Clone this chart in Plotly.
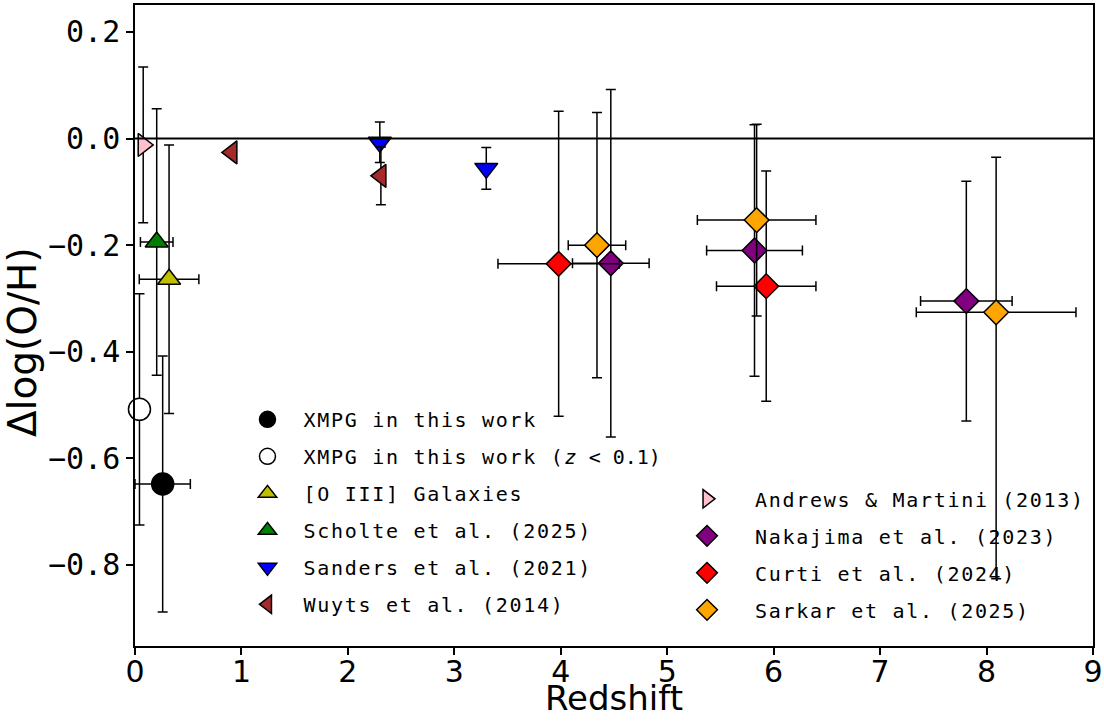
import plotly.graph_objects as go

# ---------------- data ----------------
# XMPG in this work
xmpg_z = [0.26]
xmpg_v = [-0.648]
xmpg_zerr = [0.26]
xmpg_verr = [0.24]

# XMPG in this work (z < 0.1)
xmpg_low_z = [0.042]
xmpg_low_v = [-0.508]
xmpg_low_zerr = [0.03]
xmpg_low_verr = [0.217]

# [O III] Galaxies
o3_z = [0.32]
o3_v = [-0.264]
o3_zerr = [0.28]
o3_verr = [0.252]

# Scholte et al. (2025)
scholte_z = [0.204]
scholte_v = [-0.194]
scholte_zerr = [0.153]
scholte_verr = [0.25]

# Sanders et al. (2021)
sanders_z = [2.30, 3.30]
sanders_v = [-0.007, -0.056]
sanders_verr = [0.038, 0.039]

# Wuyts et al. (2014)
wuyts_z = [0.91, 2.31]
wuyts_v = [-0.026, -0.070]
wuyts_verr = [0.0, 0.054]

# Andrews & Martini (2013)
andrews_z = [0.077]
andrews_v = [-0.012]
andrews_verr = [0.146]

# Nakajima et al. (2023)
nakajima_z = [4.47, 5.82, 7.81]
nakajima_v = [-0.234, -0.210, -0.305]
nakajima_zerr = [0.36, 0.45, 0.43]
nakajima_verr = [0.326, 0.236, 0.225]

# Curti et al. (2024)
curti_z = [3.98, 5.93]
curti_v = [-0.235, -0.277]
curti_zerr = [0.57, 0.467]
curti_verr = [0.286, 0.216]

# Sarkar et al. (2025)
sarkar_z = [4.34, 5.84, 8.09]
sarkar_v = [-0.200, -0.153, -0.326]
sarkar_zerr = [0.27, 0.557, 0.75]
sarkar_verr_plus = [0.249, 0.18, 0.291]
sarkar_verr_minus = [0.249, 0.18, 0.50]

y_ticks = [0.2, 0.0, -0.2, -0.4, -0.6, -0.8]
y_tick_text = ["0.2", "0.0", "\u22120.2", "\u22120.4", "\u22120.6", "\u22120.8"]
x_ticks = [0, 1, 2, 3, 4, 5, 6, 7, 8, 9]

# ---------------- styling ----------------
EB = dict(color="black", thickness=1.5, width=5)
MONO = "DejaVu Sans Mono"
SANS = "DejaVu Sans"
SP = "<span style='letter-spacing:1.7px'>{}</span>"


def err(arr, minus=None):
    d = dict(type="data", array=arr, visible=True, **EB)
    if minus is not None:
        d["symmetric"] = False
        d["arrayminus"] = minus
    return d


fig = go.Figure()


def add(name, z, v, symbol, color, size, zerr=None, verr=None, verr_minus=None, legend="legend"):
    fig.add_trace(go.Scatter(
        x=z, y=v, mode="markers", name=name,
        marker=dict(symbol=symbol, color=color, size=size, line=dict(color="black", width=1.5)),
        error_x=err(zerr) if zerr is not None else None,
        error_y=err(verr, verr_minus) if verr is not None else None,
        legend=legend, legendgroup=name,
        cliponaxis=False,
    ))


TRI = 20
add(SP.format("XMPG in this work"), xmpg_z, xmpg_v, "circle", "black", 22, xmpg_zerr, xmpg_verr)
add(SP.format("XMPG in this work (") + "<i>z</i> < 0.1)", xmpg_low_z, xmpg_low_v, "circle", "white", 22, xmpg_low_zerr, xmpg_low_verr)
add(SP.format("[O III] Galaxies"), o3_z, o3_v, "triangle-up", "#bfbf00", TRI, o3_zerr, o3_verr)
add(SP.format("Scholte et al. (2025)"), scholte_z, scholte_v, "triangle-up", "#008000", TRI, scholte_zerr, scholte_verr)
add(SP.format("Sanders et al. (2021)"), sanders_z, sanders_v, "triangle-down", "#0000ff", TRI, None, sanders_verr)
add(SP.format("Wuyts et al. (2014)"), wuyts_z, wuyts_v, "triangle-left", "#a52a2a", TRI, None, wuyts_verr)
add(SP.format("Andrews & Martini (2013)"), andrews_z, andrews_v, "triangle-right", "#ffc0cb", TRI, None, andrews_verr, legend="legend2")
add(SP.format("Nakajima et al. (2023)"), nakajima_z, nakajima_v, "diamond", "#800080", 19, nakajima_zerr, nakajima_verr, legend="legend2")
add(SP.format("Curti et al. (2024)"), curti_z, curti_v, "diamond", "#ff0000", 19, curti_zerr, curti_verr, legend="legend2")
add(SP.format("Sarkar et al. (2025)"), sarkar_z, sarkar_v, "diamond", "#ffa500", 19, sarkar_zerr, sarkar_verr_plus, sarkar_verr_minus, legend="legend2")

# horizontal reference line at zero (above markers)
fig.add_shape(type="line", xref="paper", x0=0, x1=1, yref="y", y0=0, y1=0,
              line=dict(color="black", width=2), layer="above")

# axis titles as annotations
fig.add_annotation(text="\u0394log(O/H)", textangle=-90, showarrow=False,
                   xref="paper", yref="paper", x=-0.118, y=0.474,
                   xanchor="center", yanchor="middle",
                   font=dict(family=SANS, size=39, color="black"))
fig.add_annotation(text="Redshift", showarrow=False,
                   xref="paper", yref="paper", x=0.5, y=-0.1155,
                   xanchor="center", yanchor="bottom",
                   font=dict(family=SANS, size=34, color="black"))

legend_common = dict(
    bgcolor="rgba(0,0,0,0)", borderwidth=0,
    font=dict(family=MONO, size=20, color="black"),
    traceorder="grouped", tracegroupgap=8,
    xanchor="left", yanchor="top",
)

fig.update_layout(
    width=1104, height=722,
    margin=dict(l=135, r=11, t=5, b=76),
    paper_bgcolor="white", plot_bgcolor="white",
    showlegend=True,
    legend=dict(x=0.1007, y=0.384, itemwidth=62, **legend_common),
    legend2=dict(x=0.547, y=0.26, itemwidth=86, **legend_common),
    xaxis=dict(
        range=[0, 9], tickmode="array", tickvals=x_ticks, automargin=False,
        showgrid=False, zeroline=False,
        showline=True, linecolor="black", linewidth=1.5, mirror=True,
        ticks="outside", ticklen=7, tickwidth=1.5, tickcolor="black",
        ticklabelstandoff=-9,
        tickfont=dict(family=SANS, size=30, color="black"),
    ),
    yaxis=dict(
        range=[-0.952, 0.2505], tickmode="array", tickvals=y_ticks, ticktext=y_tick_text,
        automargin=False,
        showgrid=False, zeroline=False,
        showline=True, linecolor="black", linewidth=1.5, mirror=True,
        ticks="outside", ticklen=7, tickwidth=1.5, tickcolor="black",
        tickfont=dict(family=MONO, size=30, color="black"),
    ),
)

fig.write_html("out.html", config={"displayModeBar": False},
               post_script="document.body.style.margin='0px';document.body.style.overflow='hidden';")
